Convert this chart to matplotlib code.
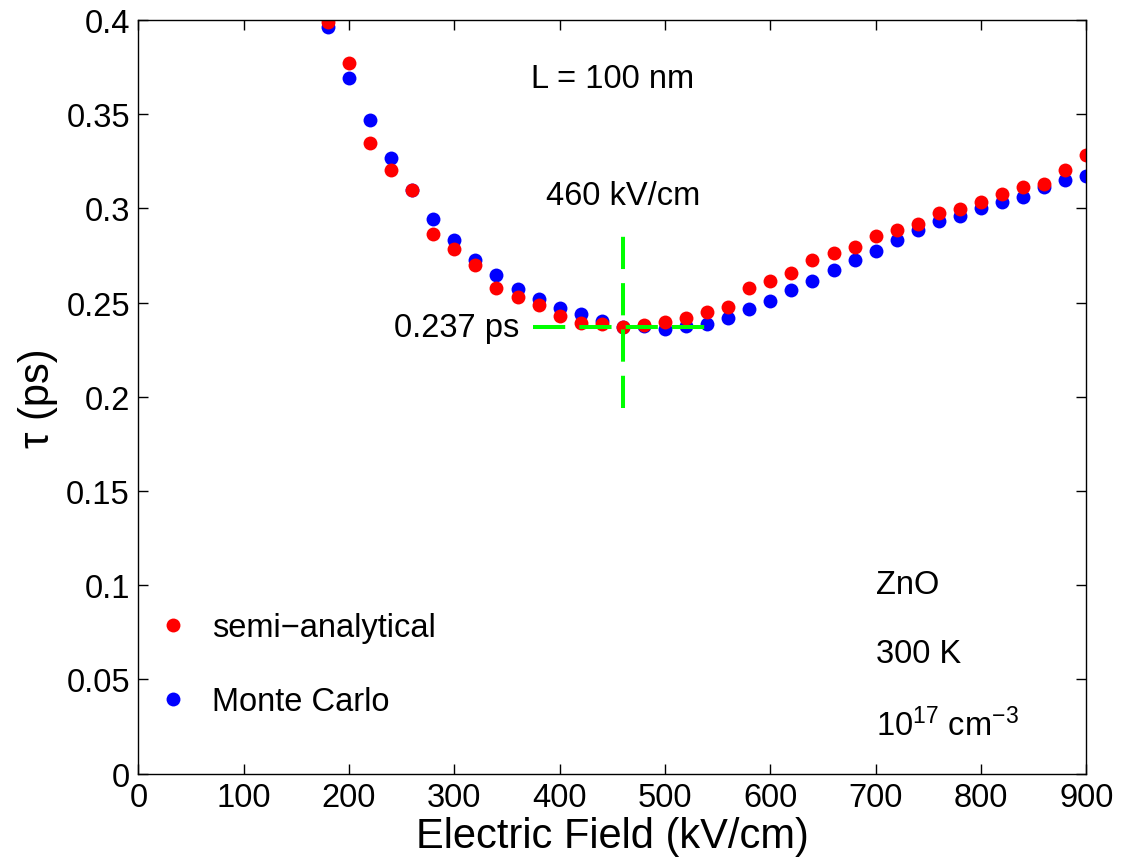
import matplotlib
matplotlib.use("Agg")
import matplotlib.pyplot as plt
from matplotlib.ticker import FuncFormatter, MultipleLocator

plt.rcParams['font.family'] = ['Liberation Sans', 'DejaVu Sans']
plt.rcParams['mathtext.fontset'] = 'custom'
plt.rcParams['mathtext.rm'] = 'Liberation Sans'
plt.rcParams['mathtext.it'] = 'Liberation Sans:italic'

# electric field (kV/cm)
field = [180, 200, 220, 240, 260, 280, 300, 320, 340, 360, 380, 400, 420,
         440, 460, 480, 500, 520, 540, 560, 580, 600, 620, 640, 660, 680,
         700, 720, 740, 760, 780, 800, 820, 840, 860, 880, 900]

# transit time tau (ps)
tau_semi = [0.399, 0.377, 0.3345, 0.3205, 0.3096, 0.2865, 0.2786, 0.2697,
            0.2579, 0.2531, 0.2487, 0.2428, 0.2393, 0.2389, 0.2368, 0.2379,
            0.2396, 0.2419, 0.2449, 0.2478, 0.2577, 0.2616, 0.2656, 0.2727,
            0.2764, 0.2796, 0.2854, 0.2886, 0.2917, 0.2976, 0.2997, 0.3034,
            0.3077, 0.3114, 0.3127, 0.3205, 0.3285]
tau_mc = [0.3964, 0.3694, 0.3467, 0.3265, 0.3096, 0.2946, 0.2831, 0.2728,
          0.2647, 0.2570, 0.2520, 0.2469, 0.2441, 0.2402, 0.2368, 0.2376,
          0.2361, 0.2375, 0.2389, 0.2418, 0.2467, 0.2506, 0.2566, 0.2617,
          0.2675, 0.2725, 0.2775, 0.2831, 0.2884, 0.2931, 0.2962, 0.3002,
          0.3034, 0.3062, 0.3112, 0.3152, 0.317]

min_field = 460
min_tau = 0.237

fig = plt.figure(figsize=(11.21, 8.62), dpi=100)
ax = fig.add_axes([0.1234, 0.1013, 0.8457, 0.8744])

mc, = ax.plot(field, tau_mc, 'o', color='blue', ms=10, mew=0, label='Monte Carlo')
semi, = ax.plot(field, tau_semi, 'o', color='red', ms=10, mew=0, label='semi\u2212analytical')

# minimum markers
ax.plot([375, 540], [min_tau, min_tau], color='#00ff00', lw=2.9, dashes=(8, 3.5))
ax.plot([min_field, min_field], [0.194, 0.287], color='#00ff00', lw=2.9, dashes=(8, 3.5))

fs = 23.5
ax.text(450, 0.3687, 'L = 100 nm', fontsize=fs, ha='center', va='center')
ax.text(min_field, 0.3066, '460 kV/cm', fontsize=fs, ha='center', va='center')
ax.text(362, min_tau, '0.237 ps', fontsize=fs, ha='right', va='center')
ax.text(700, 0.1002, 'ZnO', fontsize=fs, ha='left', va='center')
ax.text(700, 0.0636, '300 K', fontsize=fs, ha='left', va='center')
ax.text(700, 0.026, '10$^{17}$ cm$^{-3}$', fontsize=fs, ha='left', va='center')

ax.legend(handles=[semi, mc], loc='lower left', bbox_to_anchor=(-0.0116, 0.04),
          frameon=False, fontsize=fs, handlelength=1.2, handletextpad=0.6,
          labelspacing=1.33, borderaxespad=0.4)

ax.set_xlim(0, 900)
ax.set_ylim(0, 0.4)
ax.xaxis.set_major_locator(MultipleLocator(100))
ax.yaxis.set_major_locator(MultipleLocator(0.05))
ax.yaxis.set_major_formatter(FuncFormatter(lambda v, p: '%g' % round(v, 3)))
ax.tick_params(direction='in', length=7, width=1, top=True, right=True,
               labelsize=fs, pad=6)
for s in ax.spines.values():
    s.set_linewidth(1.0)

ax.set_xlabel('Electric Field (kV/cm)', fontsize=30, labelpad=2)
ax.set_ylabel('\u03c4 (ps)', fontsize=30, labelpad=6)

fig.savefig('out.png', dpi=100)
